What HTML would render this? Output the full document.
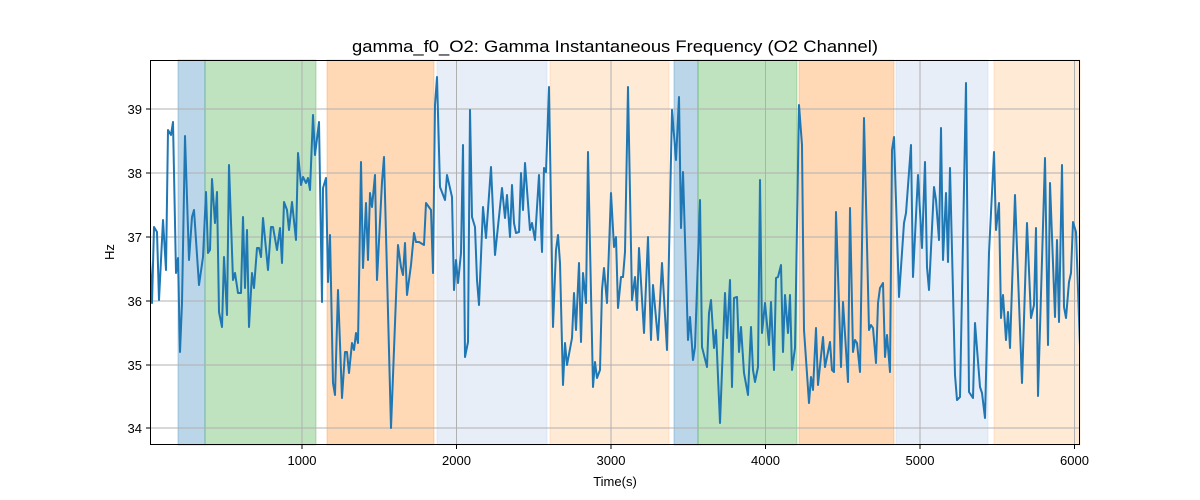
<!DOCTYPE html>
<html><head><meta charset="utf-8"><style>body{margin:0;background:#fff}svg{display:block;font-family:"Liberation Sans","DejaVu Sans",sans-serif}</style></head>
<body>
<svg width="1200" height="500" viewBox="0 0 1200 500">
<defs><clipPath id="c"><rect x="150" y="60" width="930" height="385"/></clipPath></defs>
<g stroke-opacity="0.3" stroke-width="1">
<rect x="178" y="60" width="27" height="385" fill="#1f77b4" fill-opacity="0.3" stroke="#1f77b4"/>
<rect x="205" y="60" width="111" height="385" fill="#2ca02c" fill-opacity="0.3" stroke="#2ca02c"/>
<rect x="327" y="60" width="107" height="385" fill="#ff7f0e" fill-opacity="0.3" stroke="#ff7f0e"/>
<rect x="437" y="60" width="110" height="385" fill="#aec7e8" fill-opacity="0.3" stroke="#aec7e8"/>
<rect x="550" y="60" width="119" height="385" fill="#ffbb78" fill-opacity="0.3" stroke="#ffbb78"/>
<rect x="674" y="60" width="24" height="385" fill="#1f77b4" fill-opacity="0.3" stroke="#1f77b4"/>
<rect x="698" y="60" width="99" height="385" fill="#2ca02c" fill-opacity="0.3" stroke="#2ca02c"/>
<rect x="799" y="60" width="95" height="385" fill="#ff7f0e" fill-opacity="0.3" stroke="#ff7f0e"/>
<rect x="896" y="60" width="92" height="385" fill="#aec7e8" fill-opacity="0.3" stroke="#aec7e8"/>
<rect x="994" y="60" width="86" height="385" fill="#ffbb78" fill-opacity="0.3" stroke="#ffbb78"/>
</g>
<g stroke="#b0b0b0" stroke-width="1">
<line x1="302" y1="60" x2="302" y2="445"/><line x1="456.5" y1="60" x2="456.5" y2="445"/><line x1="611" y1="60" x2="611" y2="445"/><line x1="765.5" y1="60" x2="765.5" y2="445"/><line x1="920" y1="60" x2="920" y2="445"/><line x1="1074.5" y1="60" x2="1074.5" y2="445"/>
<line x1="150" y1="109" x2="1080" y2="109"/><line x1="150" y1="173" x2="1080" y2="173"/><line x1="150" y1="237" x2="1080" y2="237"/><line x1="150" y1="301" x2="1080" y2="301"/><line x1="150" y1="365" x2="1080" y2="365"/><line x1="150" y1="428" x2="1080" y2="428"/>
</g>
<polyline clip-path="url(#c)" fill="none" stroke="#1f77b4" stroke-width="2" stroke-linejoin="round" points="150,260 152,303 154,227 157,232 159,300 163,220 166,270 168,130 171,135 173,122 176,273 178,258 180,352 182,303 185,136 189,260 192,217 194,210 199,285 203,257 206,192 208,253 210,250 212,179 215,223 217,192 219,312 222,327 224,257 227,315 229,165 233,280 235,273 238,293 241,293 243,217 245,288 247,230 249,327 252,273 254,288 257,248 259,248 261,257 263,218 268,270 271,227 273,227 277,250 280,228 282,263 284,202 287,210 289,230 292,202 296,240 298,153 301,185 303,177 306,183 308,178 310,190 313,115 315,155 319,122 322,302 323,188 326,178 328,282 330,235 333,383 335,395 338,290 342,398 345,352 347,352 349,373 352,343 354,350 356,333 358,343 361,162 363,268 366,203 368,260 370,193 372,207 375,175 377,280 382,182 384,157 391,428 398,245 401,267 403,275 405,243 407,295 411,265 414,233 416,242 419,242 424,245 426,203 431,210 433,273 435,105 437,77 440,187 445,200 447,175 452,197 454,290 456,260 458,283 461,253 463,145 465,357 468,342 470,110 472,217 475,227 477,280 479,305 483,207 486,238 491,167 495,255 502,188 505,218 507,195 510,237 512,185 514,223 516,233 519,232 521,173 523,210 525,163 530,230 532,223 535,240 539,175 542,252 544,168 546,172 549,87 553,327 556,250 558,235 560,263 563,385 565,343 567,365 572,338 574,293 576,330 579,263 581,342 583,273 586,303 588,152 593,387 595,362 597,378 600,370 602,290 604,268 607,303 611,193 614,247 616,237 618,308 621,277 623,277 625,252 628,87 632,300 635,277 637,310 639,248 644,333 648,237 651,340 653,285 655,307 658,340 662,263 667,350 672,110 676,160 679,97 681,228 683,172 688,340 690,317 693,360 695,347 700,200 702,347 707,367 709,313 711,300 714,348 716,330 720,423 725,293 727,338 730,280 732,387 734,298 737,297 739,352 741,327 744,373 748,395 751,327 753,370 755,382 758,367 760,180 762,333 765,303 769,345 771,302 774,370 776,278 778,277 781,265 783,352 785,295 788,333 790,295 792,370 795,348 799,105 802,145 804,330 809,403 811,377 813,390 816,328 818,385 823,337 825,367 830,342 832,370 834,372 836,212 841,367 843,302 848,382 850,208 853,352 855,340 857,343 860,372 864,118 869,330 871,325 873,328 876,363 878,303 880,288 883,283 885,357 887,335 890,372 892,150 894,137 899,297 904,223 906,213 911,145 913,277 918,175 922,248 925,162 927,267 929,290 934,187 936,200 939,240 941,128 943,260 946,193 948,262 950,168 955,375 957,400 960,397 966,83 969,392 973,398 975,323 980,387 982,393 985,418 989,253 994,152 996,230 999,203 1001,318 1003,295 1006,340 1008,312 1010,348 1015,195 1022,383 1027,223 1031,318 1034,305 1036,228 1038,396 1045,158 1048,345 1050,183 1055,317 1057,240 1059,322 1062,165 1064,307 1066,318 1069,282 1071,273 1073,222 1076,232 1080,347"/>
<rect x="150.5" y="60.5" width="929" height="384" fill="none" stroke="#000" stroke-width="1"/>
<g stroke="#000" stroke-width="1">
<line x1="302" y1="445" x2="302" y2="449"/><line x1="456.5" y1="445" x2="456.5" y2="449"/><line x1="611" y1="445" x2="611" y2="449"/><line x1="765.5" y1="445" x2="765.5" y2="449"/><line x1="920" y1="445" x2="920" y2="449"/><line x1="1074.5" y1="445" x2="1074.5" y2="449"/>
<line x1="146" y1="109" x2="150" y2="109"/><line x1="146" y1="173" x2="150" y2="173"/><line x1="146" y1="237" x2="150" y2="237"/><line x1="146" y1="301" x2="150" y2="301"/><line x1="146" y1="365" x2="150" y2="365"/><line x1="146" y1="428" x2="150" y2="428"/>
</g>
<g font-size="13" fill="#000" text-anchor="middle">
<text x="302" y="465">1000</text><text x="456.5" y="465">2000</text><text x="611" y="465">3000</text><text x="765.5" y="465">4000</text><text x="920" y="465">5000</text><text x="1074.5" y="465">6000</text>
</g>
<g font-size="13" fill="#000" text-anchor="end">
<text x="142" y="114">39</text><text x="142" y="178">38</text><text x="142" y="242">37</text><text x="142" y="306">36</text><text x="142" y="370">35</text><text x="142" y="433">34</text>
</g>
<text x="615" y="486" font-size="13" text-anchor="middle">Time(s)</text>
<text x="114" y="252" font-size="13" text-anchor="middle" transform="rotate(-90 114 252)">Hz</text>
<text x="352" y="52" font-size="17" textLength="526" lengthAdjust="spacingAndGlyphs">gamma_f0_O2: Gamma Instantaneous Frequency (O2 Channel)</text>
</svg>
</body></html>
